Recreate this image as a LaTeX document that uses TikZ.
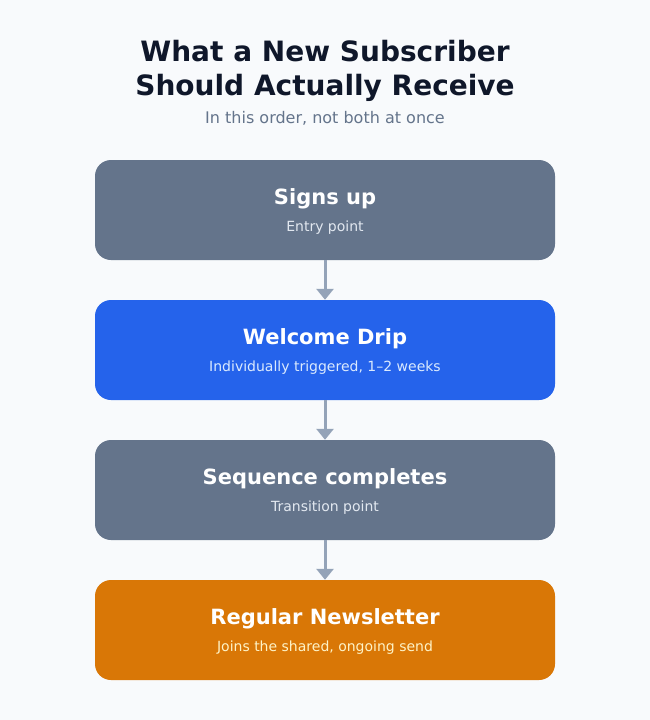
\documentclass[tikz,border=0pt]{standalone}
\usepackage{fontspec}
\setmainfont{DejaVu Sans}
\usetikzlibrary{arrows.meta}
\definecolor{bgc}{HTML}{F8FAFC}
\definecolor{titlec}{HTML}{0F172A}
\definecolor{subc}{HTML}{64748B}
\definecolor{grayc}{HTML}{64748B}
\definecolor{bluec}{HTML}{2563EB}
\definecolor{orangec}{HTML}{D97706}
\definecolor{arrowc}{HTML}{94A3B8}
\definecolor{graysub}{HTML}{E2E8F0}
\definecolor{bluesub}{HTML}{DBEAFE}
\definecolor{orangesub}{HTML}{FEF3C7}
\tikzset{
  stepbox/.style={draw=none, rounded corners=16pt, minimum width=460pt, minimum height=100pt, inner sep=0pt},
  boxtitle/.style={anchor=base, text=white, font=\fontsize{21}{25}\selectfont\bfseries},
  boxsub/.style={anchor=base, font=\fontsize{14}{17}\selectfont},
  flow/.style={draw=arrowc, line width=3pt, -{Triangle[length=11pt,width=17pt]}}
}
\begin{document}
\begin{tikzpicture}[x=1pt,y=-1pt]
\fill[bgc] (0,0) rectangle (650,720);
\useasboundingbox (0,0) rectangle (650,720);
\node[anchor=base, text=titlec, font=\fontsize{28}{33}\selectfont\bfseries] (t1) at (325,61) {What a New Subscriber};
\node[anchor=base, text=titlec, font=\fontsize{28}{33}\selectfont\bfseries] (t2) at (325,95) {Should Actually Receive};
\node[anchor=base, text=subc, font=\fontsize{16}{19}\selectfont] (st) at (325,123) {In this order, not both at once};

\node[stepbox, fill=grayc] (b1) at (325,210) {};
\node[boxtitle] (b1t) at (325,204) {Signs up};
\node[boxsub, text=graysub] (b1s) at (325,231) {Entry point};

\node[stepbox, fill=bluec] (b2) at (325,350) {};
\node[boxtitle] (b2t) at (325,344) {Welcome Drip};
\node[boxsub, text=bluesub] (b2s) at (325,371) {Individually triggered, 1–2 weeks};

\node[stepbox, fill=grayc] (b3) at (325,490) {};
\node[boxtitle] (b3t) at (325,484) {Sequence completes};
\node[boxsub, text=graysub] (b3s) at (325,511) {Transition point};

\node[stepbox, fill=orangec] (b4) at (325,630) {};
\node[boxtitle] (b4t) at (325,624) {Regular Newsletter};
\node[boxsub, text=orangesub] (b4s) at (325,651) {Joins the shared, ongoing send};

\draw[flow] (b1.south) -- (b2.north);
\draw[flow] (b2.south) -- (b3.north);
\draw[flow] (b3.south) -- (b4.north);
\end{tikzpicture}
\end{document}
